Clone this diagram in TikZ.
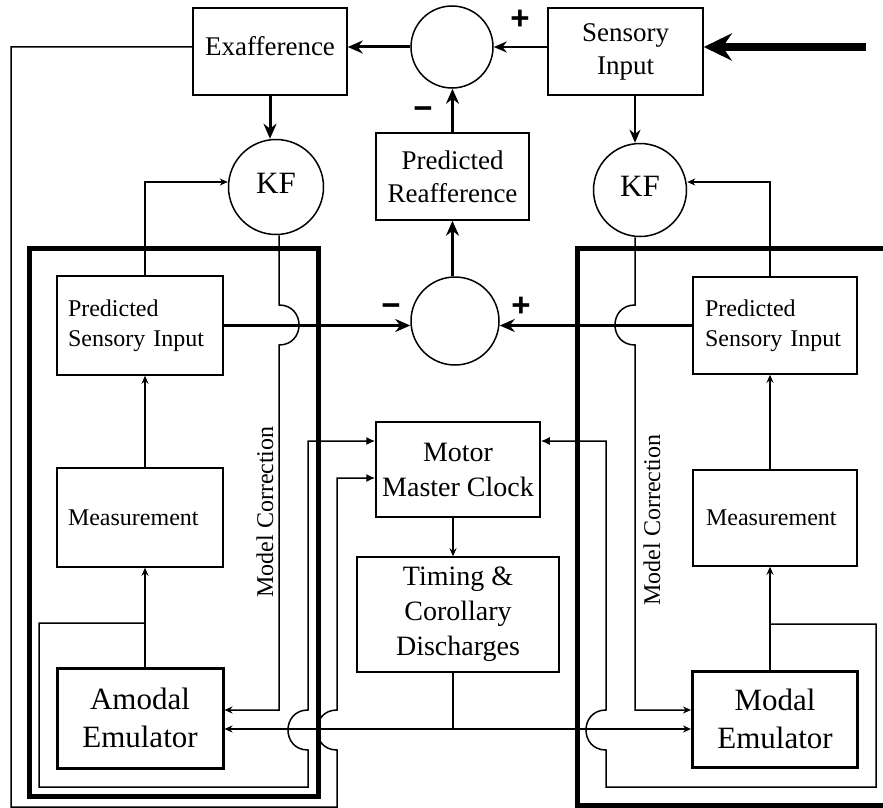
\documentclass[tikz,border=0pt]{standalone}
\usepackage{fontspec}
\setmainfont{Liberation Serif}
\newfontfamily\signfont{Liberation Sans}
\usetikzlibrary{arrows.meta,calc}
\begin{document}
\begin{tikzpicture}[x=1pt,y=-1pt,
  wire/.style={line width=1.5pt},
  warrow/.style={wire,-{Stealth[length=8pt,width=7pt]}},
  carrow/.style={wire,-{Latex[length=9pt,width=8pt]}},
  marrow/.style={line width=2.2pt,-{Stealth[length=13pt,width=11pt]}},
  tarrow/.style={line width=3pt,-{Stealth[length=15pt,width=13pt]}},
  barrow/.style={line width=8pt,-{Stealth[length=28pt,width=27pt]}},
  frame/.style={line width=5pt},
  box/.style={draw,line width=1.5pt,inner sep=0pt,align=center,font=\fontsize{27}{33}\selectfont},
  smallbox/.style={draw,line width=1.5pt,inner ysep=0pt,align=left,font=\fontsize{24}{30}\selectfont},
  embox/.style={draw,line width=3pt,inner sep=0pt,align=center,font=\fontsize{31}{38}\selectfont},
  sumc/.style={draw,circle,line width=1.5pt,inner sep=0pt},
  kfc/.style={draw,circle,line width=1.5pt,inner sep=0pt,font=\fontsize{31}{31}\selectfont,text depth=8pt},
  sign/.style={inner sep=0pt,font=\signfont\bfseries\fontsize{33}{33}\selectfont},
  mclabel/.style={rotate=90,inner sep=0pt,font=\fontsize{24}{24}\selectfont}
]
\useasboundingbox (0,0) rectangle (883,808);

% frames
\draw[frame] (29,248) rectangle (318,796);
\draw[frame] (888,248) -- (577,248) -- (577,805) -- (888,805);

% nodes
\node[box,minimum width=154pt,minimum height=87pt,text depth=11pt] (exa) at (270,51.5) {Exafference};
\node[box,minimum width=155pt,minimum height=87pt] (sens) at (625.5,51.5) {Sensory\\Input};
\node[sumc,minimum size=82pt] (sum1) at (452,47) {};
\node[kfc,minimum size=95pt] (kfl) at (276,187) {KF};
\node[kfc,minimum size=93pt] (kfr) at (640,190) {KF};
\node[box,minimum width=153pt,minimum height=87pt] (pra) at (452.5,176.5) {Predicted\\Reafference};
\node[sumc,minimum size=88pt] (sum2) at (455,321) {};
\node[smallbox,minimum height=99pt,inner xsep=11pt,text width=144pt] (psil) at (140,325.5) {Predicted\\Sensory Input};
\node[smallbox,minimum height=97pt,inner xsep=12pt,text width=140pt] (psir) at (775,325.5) {Predicted\\Sensory Input};
\node[smallbox,minimum height=99pt,inner xsep=11pt,text width=144pt] (measl) at (140,517.5) {Measurement};
\node[smallbox,minimum height=96pt,inner xsep=13pt,text width=138pt] (measr) at (775,518) {Measurement};
\node[embox,minimum width=166pt,minimum height=100pt] (amod) at (140,718) {Amodal\\Emulator};
\node[embox,minimum width=165pt,minimum height=96pt] (mod) at (775,719) {Modal\\Emulator};
\node[box,minimum width=164pt,minimum height=95pt,font=\fontsize{28}{35}\selectfont] (clock) at (458,469.5) {Motor\\Master Clock};
\node[box,minimum width=202pt,minimum height=115pt,font=\fontsize{28}{35}\selectfont] (timing) at (458,614.5) {Timing \&\\Corollary\\Discharges};

\node[sign] (p1) at (520,20) {+};
\node[sign] (m1) at (423,113) {−};
\node[sign] (m2) at (391,310) {−};
\node[sign] (p2) at (521,307) {+};

\node[mclabel] (mcl) at (265,512) {Model Correction};
\node[mclabel] (mcr) at (652,520) {Model Correction};

% top connectors
\coordinate (inp) at (866,47);
\draw[barrow] (inp) -- (inp -| sens.east);
\draw[marrow] (sens.west |- sum1.east) -- (sum1.east);
\draw[tarrow] (sum1.west) -- (sum1.west -| exa.east);
\draw[tarrow] (exa.south) -- (exa.south |- kfl.north);
\draw[marrow] ([xshift=9.5pt]sens.south) -- ([xshift=-5pt]kfr.north);
\draw[tarrow] (pra.north) -- (pra.north |- sum1.south);
\draw[tarrow] (sum2.north -| pra.south) -- (pra.south);
\draw[tarrow] (psil.east) -- (psil.east -| sum2.west);
\draw[tarrow] (psir.west) -- (psir.west -| sum2.east);

% emulator chains
\draw[warrow] ([xshift=5pt]amod.north) -- ([xshift=5pt]measl.south);
\draw[warrow] ([xshift=5pt]measl.north) -- ([xshift=5pt]psil.south);
\draw[warrow] ([xshift=5pt]psil.north) |- ([yshift=5pt]kfl.west);
\draw[warrow] ([xshift=-5pt]mod.north) -- ([xshift=-5pt]measr.south);
\draw[warrow] ([xshift=-5pt]measr.north) -- ([xshift=-5pt]psir.south);
\draw[warrow] ([xshift=-5pt]psir.north) |- ([yshift=8pt]kfr.east);

% model correction
\draw[warrow] ([xshift=3pt]kfl.south) -- (279,305) .. controls (305.7,305) and (305.7,345) .. (279,345) -- (279,710) -- ([yshift=8pt]amod.east);
\draw[warrow] ([xshift=-5pt]kfr.south) -- (635,305) .. controls (608.3,305) and (608.3,345) .. (635,345) -- (635,710) -- ([yshift=9pt]mod.west);

% feedback to master clock
\coordinate (bl) at (145,623);
\draw[carrow] (bl) -- (39,623) -- (39,787) -- (308,787) -- (308,750) .. controls (281.3,750) and (281.3,710) .. (308,710) -- (308,441) -- ([yshift=28.5pt]clock.west);
\draw[carrow] ([yshift=4.5pt]exa.west) -- (11,47) -- (11,807) -- (337,807) -- (337,750) .. controls (310.3,750) and (310.3,710) .. (337,710) -- (337,478) -- ([yshift=-8.5pt]clock.west);
\coordinate (br) at (770,624);
\draw[carrow] (br) -- (876,624) -- (876,787) -- (606,787) -- (606,750) .. controls (579.3,750) and (579.3,710) .. (606,710) -- (606,441) -- ([yshift=28.5pt]clock.east);

% clock and timing
\draw[warrow] ([xshift=-5pt]clock.south) -- ([xshift=-5pt]timing.north);
\coordinate (tj) at (453,729);
\draw[wire] ([xshift=-5pt]timing.south) -- (tj);
\draw[warrow] (tj) -- (tj -| amod.east);
\draw[warrow] (tj) -- (tj -| mod.west);
\end{tikzpicture}
\end{document}
